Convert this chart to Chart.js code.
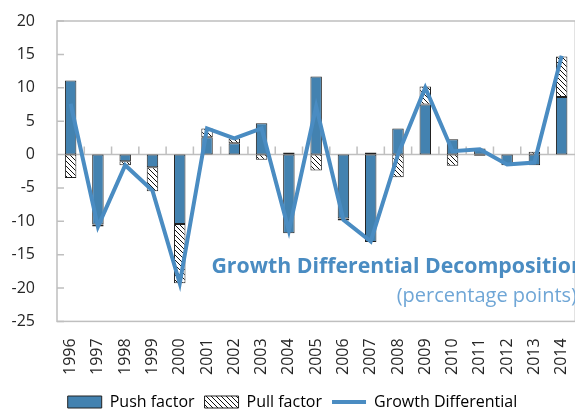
<!DOCTYPE html>
<html>
<head>
<meta charset="utf-8">
<script src="https://cdn.jsdelivr.net/npm/chart.js@4/dist/chart.umd.min.js"></script>
<style>
  html, body { margin: 0; padding: 0; background: #fff; overflow: hidden; }
  #wrap { position: relative; width: 590px; height: 420px; }
  .ttl { position: absolute; white-space: nowrap; font-family: 'Open Sans', sans-serif; }
  #t1 { top: 250px; right: 5px; font-size: 21.3px; font-weight: bold; color: #4a8cc2; }
  #t2 { top: 281px; right: 13px; font-size: 20px; color: #6fa6d6; }
</style>
</head>
<body>
<div id="wrap">
  <canvas id="chart" width="590" height="420"></canvas>
  <div class="ttl" id="t1">Growth Differential Decomposition</div>
  <div class="ttl" id="t2">(percentage points)</div>
</div>
<script>
// данные с картинки
const years = ['1996', '1997', '1998', '1999', '2000', '2001', '2002', '2003', '2004', '2005',
               '2006', '2007', '2008', '2009', '2010', '2011', '2012', '2013', '2014'];
const pushFactor = [11.1, -10.5, -1.0, -1.9, -10.4, 2.6, 1.7, 4.7, -11.8, 11.7,
                    -9.6, -13.1, 3.9, 7.5, 2.3, 0.9, -1.6, -1.6, 8.6];
const pullFactor = [-3.5, -0.3, -0.6, -3.6, -8.9, 1.3, 0.7, -0.8, 0.3, -2.4,
                    -0.3, 0.3, -3.4, 2.7, -1.7, -0.2, 0, 0.4, 6.1];
const growthDiff = [7.6, -10.8, -1.6, -5.4, -19.3, 3.9, 2.4, 3.9, -11.4, 7.2,
                    -9.8, -13.0, 0.0, 10.0, 0.5, 0.8, -1.5, -1.2, 14.8];
const yTicks = [-25, -20, -15, -10, -5, 0, 5, 10, 15, 20];

const blue = '#4382b0';
const lineBlue = '#4a8cc2';
const gray = '#bfbfbf';

// штриховка для pull factor
function makeHatch() {
    const c = document.createElement('canvas');
    c.width = 5; c.height = 5;
    const g = c.getContext('2d');
    g.fillStyle = '#fff';
    g.fillRect(0, 0, 5, 5);
    g.strokeStyle = '#111';
    g.lineWidth = 1;
    g.beginPath();
    g.moveTo(-1, -1); g.lineTo(6, 6);
    g.moveTo(-1, 4); g.lineTo(1, 6);
    g.moveTo(4, -1); g.lineTo(6, 1);
    g.stroke();
    return g.createPattern(c, 'repeat');
}
const hatch = makeHatch();

// рамка, ось на нуле и внутренние засечки
const frame = {
    id: 'frame',
    beforeDatasetsDraw(chart) {
        const { ctx, chartArea: a, scales: { x, y } } = chart;
        ctx.save();
        ctx.strokeStyle = gray;
        ctx.lineWidth = 1.5;
        ctx.strokeRect(a.left, a.top, a.right - a.left, a.bottom - a.top);
        ctx.beginPath();
        yTicks.forEach(v => {
            const py = y.getPixelForValue(v);
            ctx.moveTo(a.left, py);
            ctx.lineTo(a.left + 7, py);
        });
        const y0 = y.getPixelForValue(0);
        ctx.moveTo(a.left, y0);
        ctx.lineTo(a.right, y0);
        const step = x.getPixelForValue(1) - x.getPixelForValue(0);
        for (let i = 1; i < years.length; i++) {
            const px = x.getPixelForValue(i) - step / 2;
            ctx.moveTo(px, y0);
            ctx.lineTo(px, y0 - 8);
        }
        ctx.stroke();
        ctx.restore();
    }
};

Chart.defaults.font.family = "'Open Sans', sans-serif";
Chart.defaults.color = '#262626';

new Chart(document.getElementById('chart'), {
    data: {
        labels: years,
        datasets: [
            {
                type: 'bar', label: 'Push factor', data: pushFactor, stack: 'f', order: 1,
                backgroundColor: blue, borderColor: '#222', borderWidth: 1, borderSkipped: false,
                barPercentage: 0.42, categoryPercentage: 1
            },
            {
                type: 'bar', label: 'Pull factor', data: pullFactor, stack: 'f', order: 1,
                backgroundColor: hatch, borderColor: '#222', borderWidth: 1, borderSkipped: false,
                barPercentage: 0.42, categoryPercentage: 1
            },
            {
                type: 'line', label: 'Growth Differential', data: growthDiff, stack: 'g', order: 0,
                borderColor: lineBlue, backgroundColor: lineBlue, borderWidth: 4,
                pointRadius: 0, tension: 0, fill: false
            }
        ]
    },
    options: {
        responsive: false,
        animation: false,
        layout: { padding: { left: 0, right: 5, top: 21, bottom: 0 } },
        plugins: {
            tooltip: { enabled: false },
            legend: {
                position: 'bottom',
                labels: {
                    usePointStyle: true,
                    pointStyleWidth: 34,
                    boxHeight: 12,
                    padding: 10,
                    font: { size: 16 },
                    sort: (a, b) => a.datasetIndex - b.datasetIndex,
                    generateLabels(chart) {
                        return chart.data.datasets.map((d, i) => ({
                            text: d.label,
                            datasetIndex: i,
                            fillStyle: d.type === 'line' ? lineBlue : d.backgroundColor,
                            strokeStyle: d.type === 'line' ? lineBlue : '#222',
                            lineWidth: d.type === 'line' ? 4 : 1,
                            pointStyle: d.type === 'line' ? 'line' : 'rect',
                            hidden: false
                        }));
                    }
                }
            }
        },
        scales: {
            x: {
                stacked: true,
                grid: { display: false },
                border: { display: false },
                ticks: { minRotation: 90, maxRotation: 90, autoSkip: false, padding: 9, font: { size: 16 } }
            },
            y: {
                stacked: true,
                min: -25, max: 20,
                grid: { display: false, drawTicks: true, tickLength: 22 },
                border: { display: false },
                afterBuildTicks: s => { s.ticks = yTicks.map(v => ({ value: v })); },
                afterFit: s => { s.width = 57; },
                ticks: { padding: 0, font: { size: 16 } }
            }
        }
    },
    plugins: [frame]
});
</script>
</body>
</html>
